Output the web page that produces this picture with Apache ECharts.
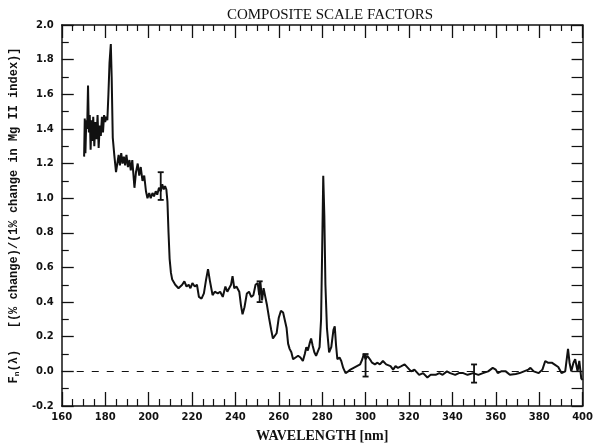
<!DOCTYPE html>
<html>
<head>
<meta charset="utf-8">
<script src="https://cdn.jsdelivr.net/npm/echarts@6.0.0/dist/echarts.min.js"></script>
<style>
  html, body { margin: 0; padding: 0; background: #fff; }
  #chart { width: 596px; height: 448px; }
</style>
</head>
<body>
<div id="chart"></div>
<script>
// wavelength (nm) and scale factor
var wavelength = [
  170.3, 170.6, 170.9, 171.3, 171.7, 172.1, 172.5, 172.9, 173.3, 173.7,
  174.1, 174.5, 175.0, 175.5, 176.0, 176.5, 177.0, 177.5, 178.0, 178.5,
  179.0, 179.5, 180.0, 180.5, 181.0, 181.5, 182.0, 182.6, 183.0, 183.5,
  184.2, 185.0, 185.6, 186.2, 186.8, 187.4, 188.0, 188.6, 189.2, 189.8,
  190.5, 191.2, 191.8, 192.5, 193.0, 193.5, 194.2, 195.0, 195.7, 196.4,
  197.2, 198.0, 198.8, 199.5, 200.3, 201.0, 201.8, 202.5, 203.3, 204.0,
  204.8, 205.6, 206.3, 207.0, 207.6, 208.2, 208.7, 209.2, 209.7, 210.3,
  210.9, 211.6, 212.3, 213.0, 213.8, 214.6, 215.5, 216.5, 217.5, 218.5,
  219.3, 220.2, 221.3, 222.3, 223.2, 224.4, 225.5, 226.5, 227.4, 228.3,
  229.5, 230.5, 231.9, 233.0, 234.2, 235.4, 236.3, 237.2, 238.0, 238.7,
  239.5, 240.5, 241.8, 242.6, 243.3, 244.2, 245.3, 246.3, 247.3, 248.3,
  249.3, 250.3, 251.0, 251.5, 252.3, 253.0, 253.8, 254.6, 255.5, 256.5,
  257.3, 258.0, 259.0, 260.0, 261.0, 262.0, 262.8, 263.6, 264.3, 265.0,
  265.8, 266.6, 267.5, 268.9, 270.0, 271.1, 272.0, 272.7, 273.4, 274.2,
  274.9, 275.6, 276.4, 277.2, 278.0, 278.8, 279.5, 280.0, 280.5, 281.0,
  281.5, 282.2, 283.2, 284.2, 285.2, 285.8, 286.4, 287.0, 288.0, 288.8,
  289.7, 290.8, 292.0, 293.0, 294.5, 296.0, 297.5, 298.5, 299.2, 300.0,
  300.8, 302.0, 303.0, 304.3, 305.5, 306.6, 308.0, 309.5, 310.4, 311.5,
  312.7, 313.8, 314.9, 316.5, 318.0, 319.5, 321.0, 322.5, 324.7, 326.5,
  328.5, 330.0, 332.3, 334.0, 335.5, 337.5, 339.0, 341.3, 343.0, 345.0,
  347.0, 349.6, 352.0, 354.1, 356.5, 358.6, 360.0, 360.9, 362.5, 364.6,
  366.5, 369.2, 371.0, 373.0, 375.0, 376.0, 377.5, 379.8, 381.5, 382.8,
  384.0, 385.8, 387.0, 388.8, 390.3, 392.0, 393.3, 394.0, 394.8, 395.8,
  396.6, 397.7, 398.5, 399.4, 400.0
];
var scaleFactor = [
  1.24, 1.46, 1.26, 1.45, 1.40, 1.65, 1.38, 1.48, 1.28, 1.45,
  1.33, 1.47, 1.30, 1.44, 1.34, 1.48, 1.29, 1.42, 1.36, 1.47,
  1.38, 1.48, 1.44, 1.47, 1.45, 1.60, 1.78, 1.89, 1.70, 1.35,
  1.25, 1.15, 1.20, 1.25, 1.19, 1.26, 1.20, 1.24, 1.19, 1.25,
  1.18, 1.22, 1.16, 1.22, 1.14, 1.06, 1.15, 1.20, 1.13, 1.18,
  1.10, 1.13, 1.04, 1.00, 1.03, 1.00, 1.03, 1.01, 1.04, 1.02,
  1.06, 1.04, 1.08, 1.05, 1.07, 1.05, 0.98, 0.80, 0.65, 0.57,
  0.53, 0.52, 0.50, 0.51, 0.48, 0.47, 0.50, 0.52, 0.49, 0.50,
  0.48, 0.51, 0.49, 0.50, 0.43, 0.42, 0.45, 0.53, 0.59, 0.52,
  0.44, 0.46, 0.45, 0.46, 0.43, 0.49, 0.46, 0.45, 0.50, 0.55,
  0.48, 0.49, 0.46, 0.38, 0.33, 0.37, 0.45, 0.46, 0.43, 0.44,
  0.50, 0.51, 0.44, 0.52, 0.41, 0.48, 0.43, 0.38, 0.31, 0.24,
  0.19, 0.18, 0.22, 0.31, 0.35, 0.34, 0.33, 0.25, 0.16, 0.13,
  0.11, 0.07, 0.08, 0.09, 0.08, 0.06, 0.10, 0.14, 0.12, 0.16,
  0.19, 0.15, 0.11, 0.09, 0.09, 0.14, 0.30, 0.70, 1.13, 0.90,
  0.50, 0.25, 0.11, 0.14, 0.24, 0.26, 0.15, 0.07, 0.08, 0.06,
  0.02, -0.01, 0.00, 0.01, 0.02, 0.03, 0.04, 0.07, 0.10, 0.07,
  0.09, 0.07, 0.05, 0.04, 0.05, 0.04, 0.06, 0.04, 0.05, 0.03,
  0.01, 0.03, 0.02, 0.03, 0.04, 0.02, 0.00, 0.01, -0.02, -0.01,
  -0.035, -0.02, -0.02, -0.01, -0.02, 0.00, -0.01, -0.02, -0.01, -0.01,
  -0.02, -0.01, -0.02, -0.01, 0.00, 0.02, 0.01, -0.01, 0.00, 0.00,
  -0.02, -0.015, -0.01, 0.00, 0.01, 0.02, 0.00, -0.01, 0.01, 0.06,
  0.05, 0.05, 0.04, 0.025, -0.01, 0.00, 0.13, 0.05, 0.00, 0.05,
  0.07, 0.00, 0.06, -0.04, -0.05
];

// error bars: wavelength, low, high
var errWavelength = [205.6, 251.2, 300.0, 350.0];
var errLow = [0.99, 0.40, -0.03, -0.065];
var errHigh = [1.15, 0.52, 0.10, 0.04];

var xTicks = { min: 160, max: 400, interval: 20 };
var yTicks = { min: -0.2, max: 2.0, interval: 0.2 };

var lineData = wavelength.map(function (w, i) { return [w, scaleFactor[i]]; });
var errData = errWavelength.map(function (w, i) { return [w, errLow[i], errHigh[i]]; });

var chart = echarts.init(document.getElementById('chart'));

var ink = '#111';
var frame = { show: true, onZero: false, lineStyle: { color: ink, width: 1.5 } };

chart.setOption({
  animation: false,
  backgroundColor: '#fff',
  title: {
    text: 'COMPOSITE SCALE FACTORS',
    left: 325,
    top: 3,
    textAlign: 'center',
    textStyle: { fontFamily: 'Liberation Serif', fontSize: 15, fontWeight: 'normal', color: ink }
  },
  grid: { left: 58, right: 7, top: 25, bottom: 41 },
  xAxis: [
    {
      type: 'value', min: xTicks.min, max: xTicks.max, interval: xTicks.interval,
      name: 'WAVELENGTH [nm]', nameLocation: 'middle', nameGap: 23,
      nameTextStyle: { fontFamily: 'Liberation Serif', fontWeight: 'bold', fontSize: 14, color: ink },
      axisLine: frame,
      axisTick: { show: true, inside: true, length: 14, lineStyle: { color: ink, width: 1.3 } },
      minorTick: { show: true, splitNumber: 4, length: 7, lineStyle: { color: ink, width: 1.2 } },
      axisLabel: { fontFamily: 'DejaVu Sans', fontWeight: 'bold', fontSize: 10, color: ink, margin: 6 },
      splitLine: { show: false }
    },
    {
      type: 'value', position: 'top', min: xTicks.min, max: xTicks.max, interval: xTicks.interval,
      axisLine: frame,
      axisTick: { show: true, inside: true, length: 13, lineStyle: { color: ink, width: 1.3 } },
      minorTick: { show: true, splitNumber: 4, length: 6, lineStyle: { color: ink, width: 1.2 } },
      axisLabel: { show: false },
      splitLine: { show: false }
    }
  ],
  yAxis: [
    {
      type: 'value', min: yTicks.min, max: yTicks.max, interval: yTicks.interval,
      name: '{b|F}{s|n}{b|(λ)   [(% change)/(1% change in Mg II index)]}',
      nameLocation: 'middle', nameGap: 38, nameRotate: 90,
      nameTextStyle: {
        color: ink,
        rich: {
          b: { fontFamily: 'Liberation Mono', fontWeight: 'bold', fontSize: 12, color: ink },
          s: { fontFamily: 'Liberation Mono', fontWeight: 'bold', fontSize: 8, color: ink, verticalAlign: 'bottom', padding: [6, 0, 0, 0] }
        }
      },
      axisLine: frame,
      axisTick: { show: true, inside: true, length: 12, lineStyle: { color: ink, width: 1.3 } },
      minorTick: { show: true, splitNumber: 2, length: 7, lineStyle: { color: ink, width: 1.2 } },
      axisLabel: {
        fontFamily: 'DejaVu Sans', fontWeight: 'bold', fontSize: 10, color: ink, margin: 8,
        formatter: function (v) { return v.toFixed(1); }
      },
      splitLine: { show: false }
    },
    {
      type: 'value', position: 'right', min: yTicks.min, max: yTicks.max, interval: yTicks.interval,
      axisLine: frame,
      axisTick: { show: true, inside: true, length: 11, lineStyle: { color: ink, width: 1.3 } },
      minorTick: { show: true, splitNumber: 2, length: 11, lineStyle: { color: ink, width: 1.2 } },
      axisLabel: { show: false },
      splitLine: { show: false }
    }
  ],
  series: [
    {
      type: 'line',
      data: lineData,
      showSymbol: false,
      lineStyle: { color: ink, width: 2 },
      z: 3,
      markLine: {
        silent: true,
        symbol: 'none',
        label: { show: false },
        lineStyle: { color: ink, width: 1, type: [7, 8] },
        data: [[{ coord: [xTicks.min, 0] }, { coord: [xTicks.max, 0] }]]
      }
    },
    {
      type: 'custom',
      data: errData,
      z: 4,
      renderItem: function (params, api) {
        var lo = api.coord([api.value(0), api.value(1)]);
        var hi = api.coord([api.value(0), api.value(2)]);
        var c = 3;
        var st = { stroke: ink, lineWidth: 1.8 };
        return {
          type: 'group',
          children: [
            { type: 'line', shape: { x1: lo[0], y1: lo[1], x2: hi[0], y2: hi[1] }, style: st },
            { type: 'line', shape: { x1: lo[0] - c, y1: lo[1], x2: lo[0] + c, y2: lo[1] }, style: st },
            { type: 'line', shape: { x1: hi[0] - c, y1: hi[1], x2: hi[0] + c, y2: hi[1] }, style: st }
          ]
        };
      }
    }
  ]
});
</script>
</body>
</html>
